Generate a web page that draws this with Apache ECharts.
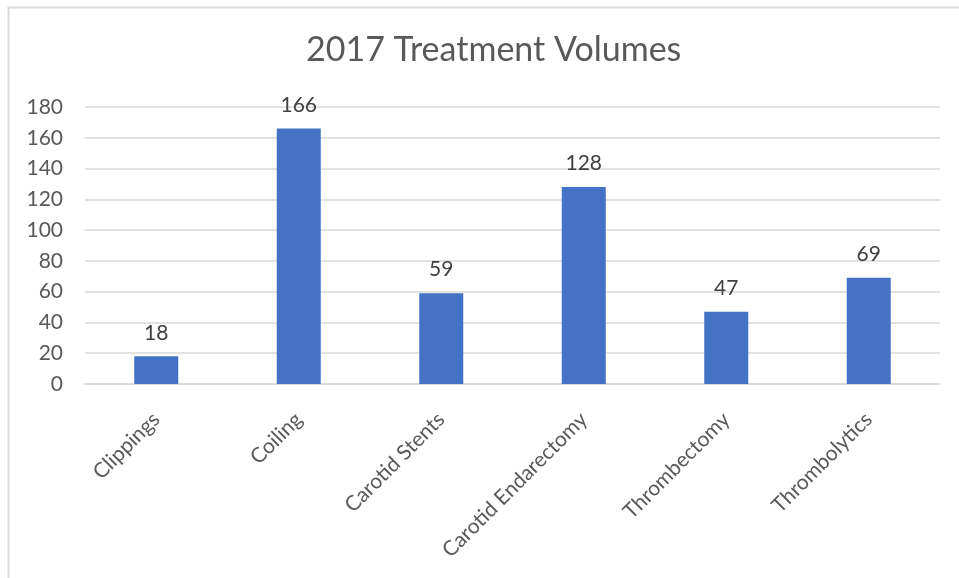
<!DOCTYPE html>
<html>
<head>
<meta charset="utf-8">
<script src="https://cdn.jsdelivr.net/npm/echarts@6/dist/echarts.min.js"></script>
<style>
html,body{margin:0;padding:0;background:#fff;}
#c{width:959px;height:578px;}
</style>
</head>
<body>
<div id="c"></div>
<script>
var categories = ['Clippings', 'Coiling', 'Carotid Stents', 'Carotid Endarectomy', 'Thrombectomy', 'Thrombolytics'];
var values = [18, 166, 59, 128, 47, 69];
var titleText = '2017 Treatment Volumes';

var chart = echarts.init(document.getElementById('c'));
var font = 'Lato, "Open Sans", sans-serif';
chart.setOption({
  animation: false,
  backgroundColor: '#ffffff',
  title: {
    text: titleText,
    left: 301,
    top: 28,
    textStyle: { fontFamily: font, fontSize: 34, fontWeight: 'normal', color: '#595959' }
  },
  graphic: [{
    type: 'rect',
    shape: { x: 8.5, y: 7.5, width: 1000, height: 1000 },
    style: { fill: 'none', stroke: '#d9d9d9', lineWidth: 2 },
    silent: true
  }],
  grid: { left: 85, right: 19, top: 107, bottom: 194, containLabel: false },
  xAxis: {
    type: 'category',
    data: categories,
    axisLine: { show: true, lineStyle: { color: '#d9d9d9', width: 1.5 } },
    axisTick: { show: false },
    axisLabel: {
      rotate: 45,
      interval: 0,
      margin: 32,
      fontFamily: font,
      fontSize: 21,
      color: '#595959'
    }
  },
  yAxis: {
    type: 'value',
    min: 0,
    max: 180,
    interval: 20,
    axisLine: { show: false },
    axisTick: { show: false },
    splitLine: { lineStyle: { color: '#d9d9d9', width: 1.5 } },
    axisLabel: { fontFamily: font, fontSize: 21, color: '#595959', margin: 22 }
  },
  series: [{
    type: 'bar',
    data: values,
    barWidth: 44,
    itemStyle: { color: '#4472C4' },
    label: {
      show: true,
      position: 'top',
      distance: 13,
      fontFamily: font,
      fontSize: 21,
      color: '#404040'
    }
  }]
});
</script>
</body>
</html>
